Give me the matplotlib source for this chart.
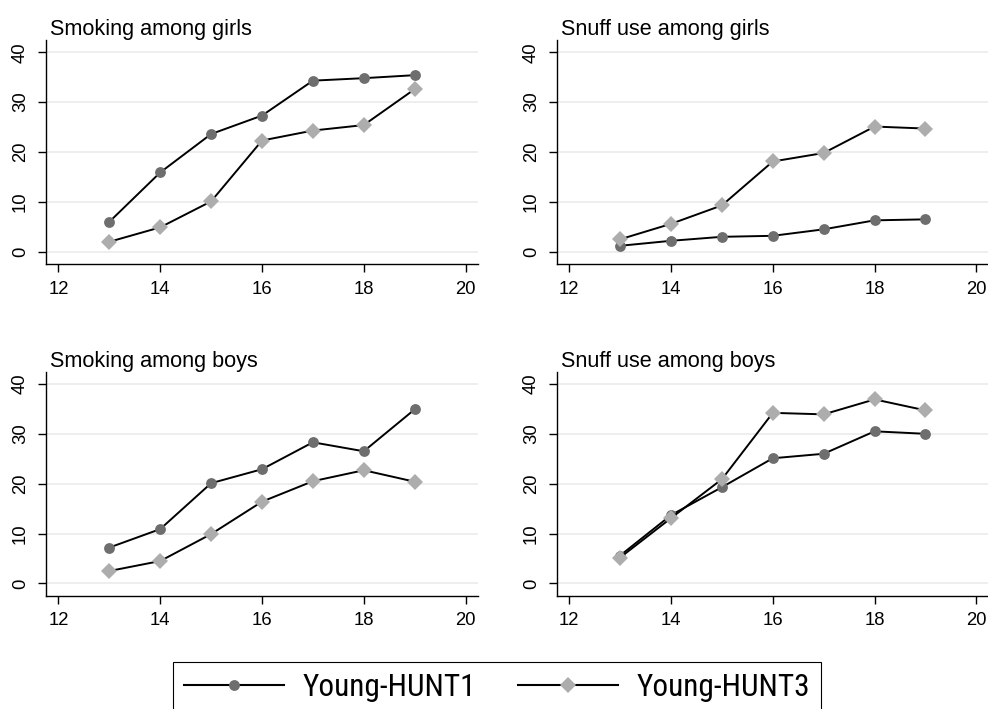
import matplotlib.pyplot as plt
from matplotlib.lines import Line2D

plt.rcParams['font.family'] = ['Liberation Sans', 'DejaVu Sans']

# Age in years
ages = [13, 14, 15, 16, 17, 18, 19]

# Prevalence (%) per panel, Young-HUNT1 and Young-HUNT3
smoke_girls_h1 = [6.0, 15.9, 23.6, 27.3, 34.3, 34.8, 35.4]
smoke_girls_h3 = [2.0, 4.9, 10.1, 22.3, 24.3, 25.4, 32.6]
snuff_girls_h1 = [1.2, 2.2, 3.0, 3.2, 4.5, 6.3, 6.5]
snuff_girls_h3 = [2.5, 5.6, 9.3, 18.1, 19.8, 25.1, 24.7]
smoke_boys_h1 = [7.2, 10.9, 20.1, 22.9, 28.3, 26.5, 34.9]
smoke_boys_h3 = [2.5, 4.5, 9.9, 16.4, 20.5, 22.7, 20.4]
snuff_boys_h1 = [5.6, 13.7, 19.3, 25.1, 26.0, 30.5, 30.0]
snuff_boys_h3 = [5.2, 13.1, 20.9, 34.2, 33.9, 36.9, 34.7]

titles = ['Smoking among girls', 'Snuff use among girls',
          'Smoking among boys', 'Snuff use among boys']
panels = [(smoke_girls_h1, smoke_girls_h3), (snuff_girls_h1, snuff_girls_h3),
          (smoke_boys_h1, smoke_boys_h3), (snuff_boys_h1, snuff_boys_h3)]

x_ticks = [12, 14, 16, 18, 20]
y_ticks = [0, 10, 20, 30, 40]
labels = ['Young-HUNT1', 'Young-HUNT3']

c_h1 = '#6e6e6e'
c_h3 = '#adadad'

W, H = 988, 709
fig = plt.figure(figsize=(W / 100, H / 100), dpi=100)

# axes boxes in pixels: left, top
boxes = [(45.7, 40), (556.5, 40), (45.7, 371.7), (556.5, 371.7)]
aw, ah = 432.6, 224

for (px, py), title, (h1, h3) in zip(boxes, titles, panels):
    ax = fig.add_axes([px / W, 1 - (py + ah) / H, aw / W, ah / H])
    ax.plot(ages, h1, color='black', lw=1.4, marker='o', ms=7.8,
            mfc=c_h1, mec=c_h1, mew=0)
    ax.plot(ages, h3, color='black', lw=1.4, marker='D', ms=7.8,
            mfc=c_h3, mec=c_h3, mew=0)
    ax.set_xlim(11.75, 20.25)
    ax.set_ylim(-2.45, 42.45)
    ax.set_xticks(x_ticks)
    ax.set_yticks(y_ticks)
    ax.yaxis.grid(True, color='#ebebeb', lw=1.2)
    ax.set_axisbelow(True)
    for s in ['top', 'right']:
        ax.spines[s].set_visible(False)
    for s in ['left', 'bottom']:
        ax.spines[s].set_linewidth(1.0)
    ax.tick_params(axis='both', length=6, width=1.0, labelsize=13.3, pad=6)
    plt.setp(ax.get_yticklabels(), rotation=90, va='center')
    ax.set_title(title, loc='left', x=0.01, fontsize=15.6, pad=3)

handles = [
    Line2D([], [], color='black', lw=1.5, marker='o', ms=7.8, mfc=c_h1, mec=c_h1, mew=0),
    Line2D([], [], color='black', lw=1.5, marker='D', ms=7.8, mfc=c_h3, mec=c_h3, mew=0),
]
leg = fig.legend(handles, labels, loc='upper left',
                 bbox_to_anchor=(173.3 / W, 1 - 662.3 / H), ncol=2,
                 borderaxespad=0, fancybox=False, edgecolor='black', framealpha=1,
                 borderpad=0.35, handlelength=3.2, handletextpad=0.59,
                 columnspacing=1.33,
                 prop={'family': 'Roboto Condensed', 'size': 22.5})
leg.get_frame().set_linewidth(0.8)

fig.savefig('out.png', dpi=100)
